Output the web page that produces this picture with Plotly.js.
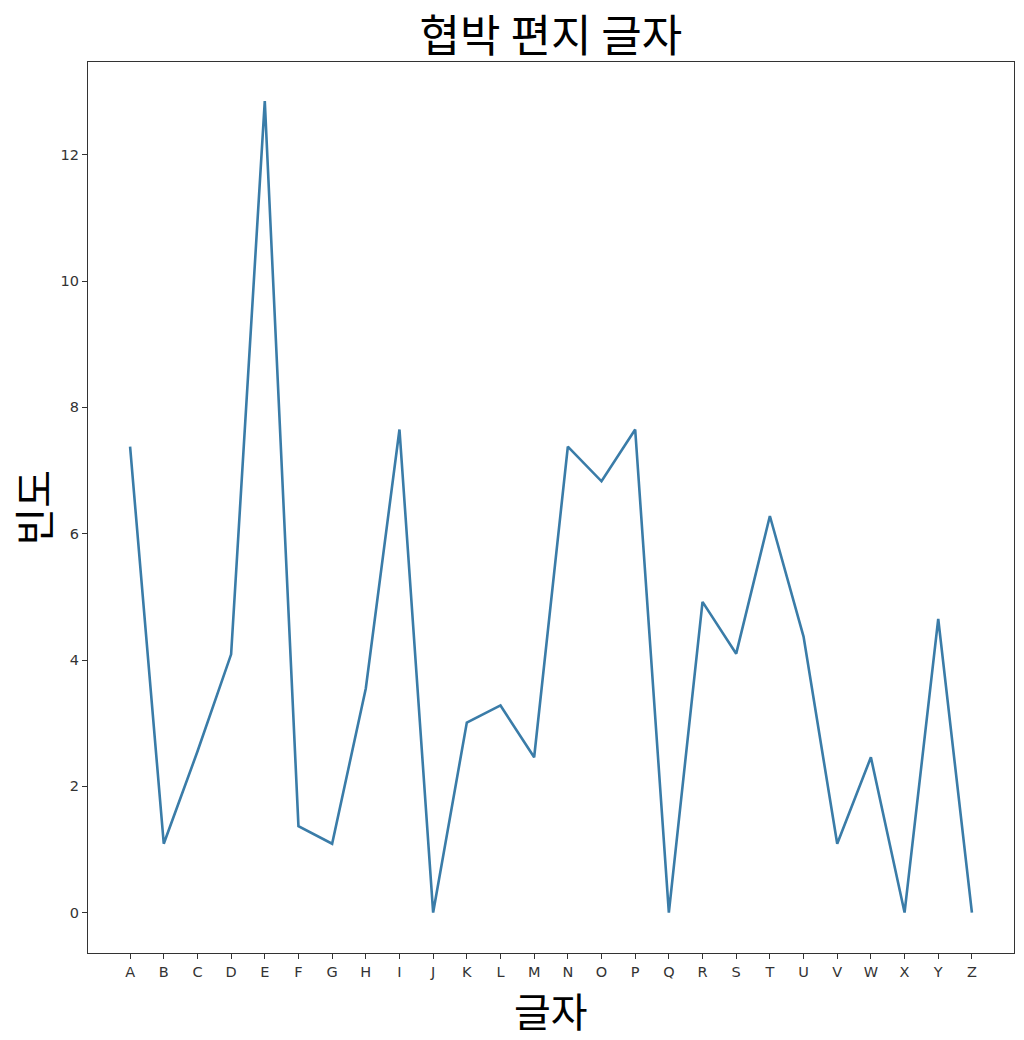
<!DOCTYPE html>
<html>
<head>
<meta charset="utf-8">
<script src="https://cdn.plot.ly/plotly-3.0.1.min.js"></script>
<style>html,body{margin:0;padding:0;background:#fff;}#chart{width:1024px;height:1040px;}</style>
</head>
<body>
<div id="chart"></div>
<script>
const letters = ["A","B","C","D","E","F","G","H","I","J","K","L","M","N","O","P","Q","R","S","T","U","V","W","X","Y","Z"];
const freq = [7.38, 1.09, 2.55, 4.09, 12.85, 1.37, 1.09, 3.55, 7.65, 0, 3.01, 3.28, 2.46, 7.38, 6.83, 7.65, 0, 4.92, 4.10, 6.28, 4.37, 1.09, 2.46, 0, 4.65, 0];
const titleText = "협박 편지 글자";
const xTitle = "글자";
const yTitle = "빈도";
const yTicks = [0, 2, 4, 6, 8, 10, 12];

const kr = '"Noto Sans CJK KR", "Noto Sans", sans-serif';
const tickFont = {family: '"DejaVu Sans", sans-serif', size: 14.5, color: '#333'};

Plotly.newPlot('chart', [{
  x: letters.map((_, i) => i),
  y: freq,
  type: 'scatter',
  mode: 'lines',
  line: {color: 'rgb(58,124,168)', width: 2.6},
  hoverinfo: 'none'
}], {
  width: 1024, height: 1040,
  margin: {l: 88, r: 10, t: 62, b: 87},
  paper_bgcolor: '#fff', plot_bgcolor: '#fff',
  showlegend: false,
  title: {text: titleText, font: {family: kr, size: 44, color: '#000'}, x: 0.538, xanchor: 'center', y: 0.965, yanchor: 'middle'},
  xaxis: {
    range: [-1.25, 26.25],
    tickmode: 'array', tickvals: letters.map((_, i) => i), ticktext: letters,
    ticks: 'outside', ticklen: 5, tickcolor: '#333', tickwidth: 1,
    tickfont: tickFont,
    showgrid: false, zeroline: false,
    showline: true, linecolor: '#333', linewidth: 1.2, mirror: true
  },
  yaxis: {
    range: [-0.64, 13.47],
    tickmode: 'array', tickvals: yTicks, ticktext: yTicks.map(String),
    ticks: 'outside', ticklen: 5, tickcolor: '#333', tickwidth: 1,
    tickfont: tickFont,
    showgrid: false, zeroline: false,
    showline: true, linecolor: '#333', linewidth: 1.2, mirror: true
  },
  annotations: [{
    text: yTitle, xref: 'paper', yref: 'paper', x: -0.0605, y: 0.5,
    xanchor: 'center', yanchor: 'middle', textangle: -90, showarrow: false,
    font: {family: kr, size: 41, color: '#000'}
  }, {
    text: xTitle, xref: 'paper', yref: 'paper', x: 0.5, y: -0.064,
    xanchor: 'center', yanchor: 'middle', showarrow: false,
    font: {family: kr, size: 40, color: '#000'}
  }]
}, {staticPlot: true});
</script>
</body>
</html>
